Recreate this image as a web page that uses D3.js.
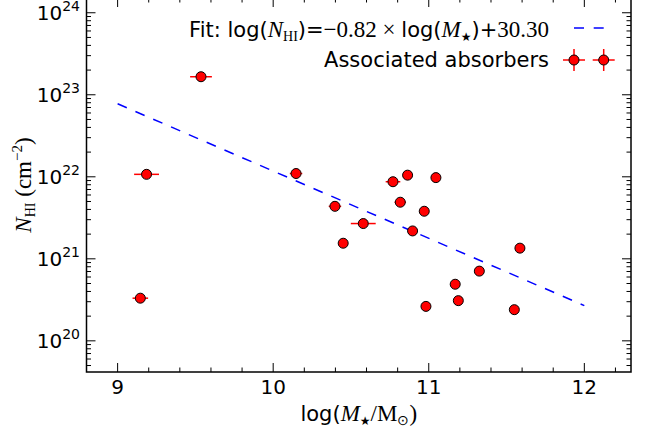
<!DOCTYPE html>
<html><head><meta charset="utf-8">
<script src="https://cdn.jsdelivr.net/npm/d3@7"></script>
<style>body{margin:0;background:#fff} svg{display:block}</style>
</head><body><svg id="c" width="651" height="434"></svg>
<script>
// Data
const logMass  = [9.536, 9.186, 10.147, 10.397, 10.450, 9.146, 10.579, 10.770, 10.864, 11.046, 10.817, 10.971, 10.896, 11.586, 11.325, 11.170, 11.190, 10.982, 11.550];
const logNHI   = [23.22, 22.03, 22.04, 21.64, 21.19, 20.52, 21.43, 21.94, 22.02, 21.99, 21.69, 21.58, 21.34, 21.13, 20.85, 20.69, 20.49, 20.42, 20.38];
const massErr  = [0.07, 0.08, 0.04, 0.04, 0.0, 0.05, 0.08, 0.047, 0.0, 0.0, 0.037, 0.0, 0.02, 0.0, 0.0, 0.0, 0.0, 0.0, 0.0];
const fitMass   = [9, 12];
const fitLogNHI = [22.89, 20.43];
const xTicks = [9, 10, 11, 12];
const yTickExp = [20, 21, 22, 23, 24];

const svg = d3.select("#c");
const L = 86.5, R = 631, T = -2, B = 372;
const x = d3.scaleLinear().domain([8.8, 12.3]).range([L, R]);
const y = d3.scaleLog().domain([Math.pow(10, 19.62), Math.pow(10, 24.18)]).range([B, T]);
const SANS = "DejaVu Sans", SERIF = "Liberation Serif";
const FS = 20, LFS = 21, MFS = 23;

// fit line
svg.append("line")
  .attr("x1", x(fitMass[0])).attr("y1", y(Math.pow(10, fitLogNHI[0])))
  .attr("x2", x(fitMass[1])).attr("y2", y(Math.pow(10, fitLogNHI[1])))
  .attr("stroke", "#0000ff").attr("stroke-width", 1.5).attr("stroke-dasharray", "10,9.4");

// points
const pts = logMass.map((m, i) => ({m, n: Math.pow(10, logNHI[i]), e: massErr[i]}));
const g = svg.append("g");
g.selectAll("line.err").data(pts.filter(d => d.e > 0)).join("line")
  .attr("x1", d => x(d.m - d.e)).attr("x2", d => x(d.m + d.e))
  .attr("y1", d => y(d.n)).attr("y2", d => y(d.n))
  .attr("stroke", "#ff0000").attr("stroke-width", 1.5);
g.selectAll("circle").data(pts).join("circle")
  .attr("cx", d => x(d.m)).attr("cy", d => y(d.n)).attr("r", 5)
  .attr("fill", "#ff0000").attr("stroke", "#000").attr("stroke-width", 1);

// axes: ticks inward on all four sides
const ax = svg.append("g").attr("stroke", "#000").attr("stroke-width", 1);
const xMinor = d3.range(8.8, 12.31, 0.2).map(v => +v.toFixed(1));
xMinor.forEach(v => {
  const major = Math.abs(v - Math.round(v)) < 1e-6;
  const len = major ? 9 : 4.5;
  ax.append("line").attr("x1", x(v)).attr("x2", x(v)).attr("y1", B).attr("y2", B - len);
  ax.append("line").attr("x1", x(v)).attr("x2", x(v)).attr("y1", T).attr("y2", T + len);
});
for (let e = 19; e <= 24; e++) {
  for (let k = 1; k <= 9; k++) {
    const v = k * Math.pow(10, e);
    const yy = y(v);
    if (yy > B + 0.1 || yy < T - 0.1) continue;
    const len = k === 1 ? 9 : 4.5;
    ax.append("line").attr("x1", L).attr("x2", L + len).attr("y1", yy).attr("y2", yy);
    ax.append("line").attr("x1", R).attr("x2", R - len).attr("y1", yy).attr("y2", yy);
  }
}
svg.append("rect").attr("x", L).attr("y", T).attr("width", R - L).attr("height", B - T)
  .attr("fill", "none").attr("stroke", "#000").attr("stroke-width", 1.5);

// tick labels
svg.append("g").selectAll("text").data(xTicks).join("text")
  .attr("x", d => x(d)).attr("y", 394).attr("text-anchor", "middle")
  .attr("font-family", SANS).attr("font-size", FS).text(d => d);
const yl = svg.append("g").selectAll("text").data(yTickExp).join("text")
  .attr("x", 80).attr("y", d => y(Math.pow(10, d)) + 7).attr("text-anchor", "end")
  .attr("font-family", SANS).attr("font-size", FS);
yl.append("tspan").text("10");
yl.append("tspan").attr("font-size", 14).attr("dy", -9).text(d => d);

// x label
const xl = svg.append("text").attr("x", (L + R) / 2).attr("y", 421).attr("text-anchor", "middle")
  .attr("font-size", LFS);
xl.append("tspan").attr("font-family", SANS).text("log(");
xl.append("tspan").attr("font-family", SERIF).attr("font-style", "italic").attr("font-size", MFS).text("M");
xl.append("tspan").attr("font-family", SANS).attr("font-size", 12).attr("dy", 4).text("★");
xl.append("tspan").attr("font-family", SERIF).attr("font-size", MFS).attr("dy", -4).text("/M");
xl.append("tspan").attr("font-family", SERIF).attr("font-size", 14).attr("dy", 4).text("⊙");
xl.append("tspan").attr("font-family", SERIF).attr("font-size", MFS).attr("dy", -4).text(")");

// y label
const ylab = svg.append("text").attr("transform", `translate(31,${(T + B) / 2}) rotate(-90)`)
  .attr("text-anchor", "middle").attr("font-family", SERIF).attr("font-size", MFS);
ylab.append("tspan").attr("font-style", "italic").text("N");
ylab.append("tspan").attr("font-size", 14).attr("dy", 4).text("HI");
ylab.append("tspan").attr("dy", -4).text(" (cm");
ylab.append("tspan").attr("font-size", 15).attr("dy", -9).text("−2");
ylab.append("tspan").attr("dy", 9).text(")");

// legend
const t1 = svg.append("text").attr("x", 549).attr("y", 37).attr("text-anchor", "end").attr("font-size", LFS);
t1.append("tspan").attr("font-family", SANS).text("Fit: log(");
t1.append("tspan").attr("font-family", SERIF).attr("font-style", "italic").attr("font-size", MFS).text("N");
t1.append("tspan").attr("font-family", SERIF).attr("font-size", 14).attr("dy", 4).text("HI");
t1.append("tspan").attr("font-family", SANS).attr("dy", -4).text(")=");
t1.append("tspan").attr("font-family", SERIF).attr("font-size", MFS).text("−0.82 × ");
t1.append("tspan").attr("font-family", SANS).text("log(");
t1.append("tspan").attr("font-family", SERIF).attr("font-style", "italic").attr("font-size", MFS).text("M");
t1.append("tspan").attr("font-family", SANS).attr("font-size", 12).attr("dy", 4).text("★");
t1.append("tspan").attr("font-family", SANS).attr("dy", -4).text(")+");
t1.append("tspan").attr("font-family", SERIF).attr("font-size", MFS).text("30.30");
svg.append("line").attr("x1", 574).attr("x2", 604).attr("y1", 28).attr("y2", 28)
  .attr("stroke", "#0000ff").attr("stroke-width", 1.5).attr("stroke-dasharray", "10,9.7");

svg.append("text").attr("x", 549).attr("y", 67).attr("text-anchor", "end")
  .attr("font-family", SANS).attr("font-size", LFS).text("Associated absorbers");
[574, 603.7].forEach(cx => {
  svg.append("line").attr("x1", cx - 11).attr("x2", cx + 11).attr("y1", 60).attr("y2", 60).attr("stroke", "#ff0000").attr("stroke-width", 1.5);
  svg.append("line").attr("x1", cx).attr("x2", cx).attr("y1", 49).attr("y2", 71).attr("stroke", "#ff0000").attr("stroke-width", 1.5);
  svg.append("circle").attr("cx", cx).attr("cy", 60).attr("r", 5).attr("fill", "#ff0000").attr("stroke", "#000").attr("stroke-width", 1);
});
</script></body></html>
